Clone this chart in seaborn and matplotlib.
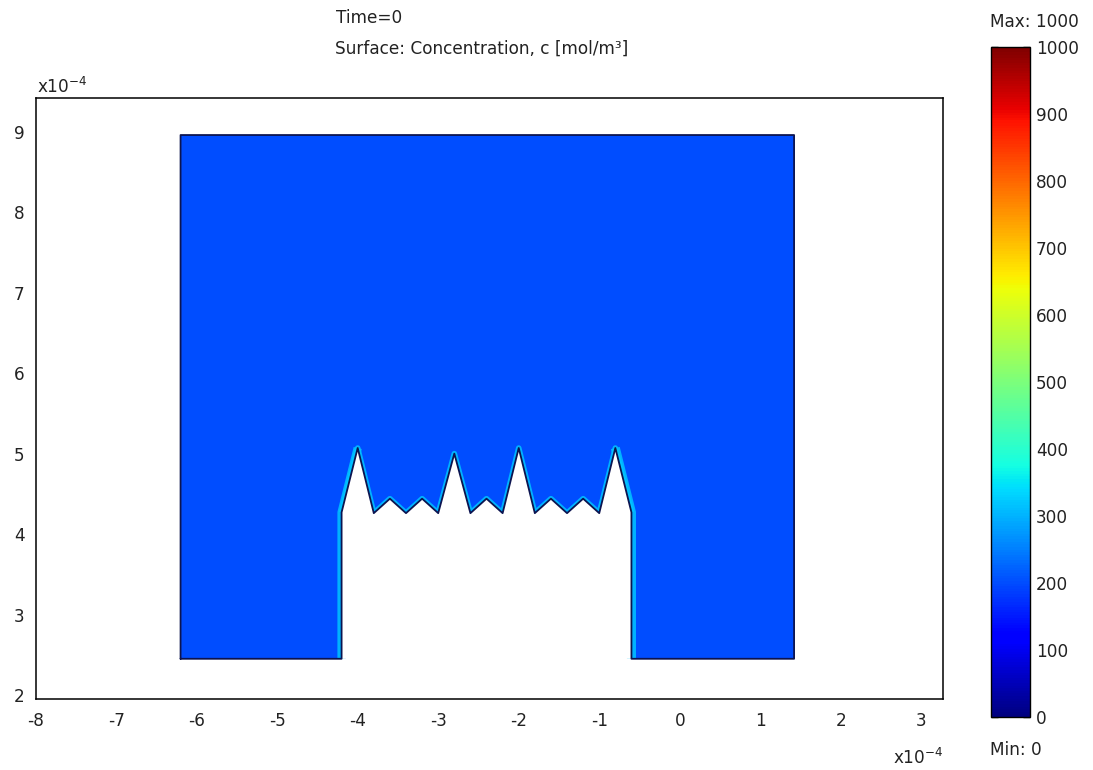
import numpy as np
import pandas as pd
import matplotlib
matplotlib.use("Agg")
import matplotlib.pyplot as plt
import seaborn as sns
from matplotlib.cm import ScalarMappable
from matplotlib.colors import Normalize

# ---------------- data ----------------
x_ticks = [-8, -7, -6, -5, -4, -3, -2, -1, 0, 1, 2, 3]
y_ticks = [2, 3, 4, 5, 6, 7, 8, 9]
cbar_ticks = [0, 100, 200, 300, 400, 500, 600, 700, 800, 900, 1000]

# outer rectangle of the domain (x10^-4 m)
domain_x = [-6.2, 1.42]
domain_y = [2.45, 8.96]

# cut-out boundary (left wall, saw-tooth top, right wall), x10^-4 m
cut_x = [-4.2, -4.2, -4.0, -3.8, -3.6, -3.4, -3.2, -3.0, -2.8, -2.6, -2.4,
         -2.2, -2.0, -1.8, -1.6, -1.4, -1.2, -1.0, -0.8, -0.6, -0.6]
cut_y = [2.45, 4.27, 5.07, 4.26, 4.44, 4.26, 4.44, 4.26, 5.00, 4.26, 4.44,
         4.26, 5.07, 4.26, 4.44, 4.26, 4.44, 4.26, 5.07, 4.27, 2.45]

c_min, c_max = 0, 1000
c_domain = 200      # concentration in the bulk
c_wall = 320        # concentration in the thin layer at the cut-out walls

# ---------------- style ----------------
sns.set_style("white")
plt.rcParams["font.family"] = ["DejaVu Sans"]
plt.rcParams["axes.unicode_minus"] = False
plt.rcParams["text.color"] = "#222222"
plt.rcParams["xtick.color"] = "#222222"
plt.rcParams["ytick.color"] = "#222222"
fs = 12.2

cmap = plt.get_cmap("jet")
norm = Normalize(c_min, c_max)

fig = plt.figure(figsize=(10.93, 7.7), dpi=100)
ax = fig.add_axes([0.0326, 0.0922, 0.8302, 0.7805])
ax.set_xlim(-8, 3.27)
ax.set_ylim(1.95, 9.42)

# domain polygon
poly_x = [domain_x[0]] + cut_x + [domain_x[1], domain_x[1], domain_x[0], domain_x[0]]
poly_y = [domain_y[0]] + cut_y + [domain_y[0], domain_y[1], domain_y[1], domain_y[0]]
ax.fill(poly_x, poly_y, color=cmap(norm(c_domain)), lw=0, zorder=1)

# light boundary layer along the cut-out: thicker on walls, thinner on teeth
band_col = cmap(norm(c_wall))
left_df = pd.DataFrame({"x": cut_x[:3], "y": cut_y[:3]})
right_df = pd.DataFrame({"x": cut_x[-3:], "y": cut_y[-3:]})
teeth_df = pd.DataFrame({"x": cut_x[1:-1], "y": cut_y[1:-1]})
for df, lw in [(teeth_df, 4.0), (left_df, 6.0), (right_df, 6.5)]:
    sns.lineplot(data=df, x="x", y="y", sort=False, estimator=None,
                 color=band_col, lw=lw, ax=ax, zorder=2, alpha=0.85,
                 solid_capstyle="butt", solid_joinstyle="round")
# cut-out is empty (white)
ax.fill(cut_x, cut_y, color="white", lw=0, zorder=3)

# dark domain outline
out_df = pd.DataFrame({"x": poly_x, "y": poly_y})
sns.lineplot(data=out_df, x="x", y="y", sort=False, estimator=None,
             color="#0c1450", lw=1.3, ax=ax, zorder=4)

ax.set_xticks(x_ticks)
ax.set_yticks(y_ticks)
ax.set_xticklabels([str(v) for v in x_ticks])
ax.set_yticklabels([str(v) for v in y_ticks])
ax.set_xlabel("")
ax.set_ylabel("")
ax.tick_params(axis="both", length=0, labelsize=fs)
ax.tick_params(axis="x", pad=9)
ax.tick_params(axis="y", pad=8)
for s in ax.spines.values():
    s.set_color("black")
    s.set_linewidth(1.1)
    s.set_visible(True)

# colorbar
cax = fig.add_axes([0.9071, 0.0688, 0.0357, 0.870])
sm = ScalarMappable(norm=norm, cmap=cmap)
cb = fig.colorbar(sm, cax=cax, ticks=cbar_ticks)
cb.outline.set_edgecolor("black")
cb.outline.set_linewidth(1.0)
cax.tick_params(direction="in", left=True, right=True, length=5, width=1,
                color="black", labelsize=fs, pad=4)
cax.set_yticklabels([str(v) for v in cbar_ticks])

# texts
fig.text(336 / 1093, 1 - 18 / 770, "Time=0", ha="left", va="center", fontsize=fs)
fig.text(335 / 1093, 1 - 49 / 770, "Surface: Concentration, c [mol/m³]",
         ha="left", va="center", fontsize=fs)
fig.text(990 / 1093, 1 - 22 / 770, "Max: 1000", ha="left", va="center", fontsize=fs)
fig.text(990 / 1093, 1 - 750 / 770, "Min: 0", ha="left", va="center", fontsize=fs)
fig.text(37 / 1093, 1 - 97 / 770, r"x10$^{\mathregular{-4}}$", ha="left",
         va="bottom", fontsize=fs)
fig.text(943 / 1093, 1 - 758 / 770, r"x10$^{\mathregular{-4}}$", ha="right",
         va="center", fontsize=fs)

fig.savefig("out.png", dpi=100)
